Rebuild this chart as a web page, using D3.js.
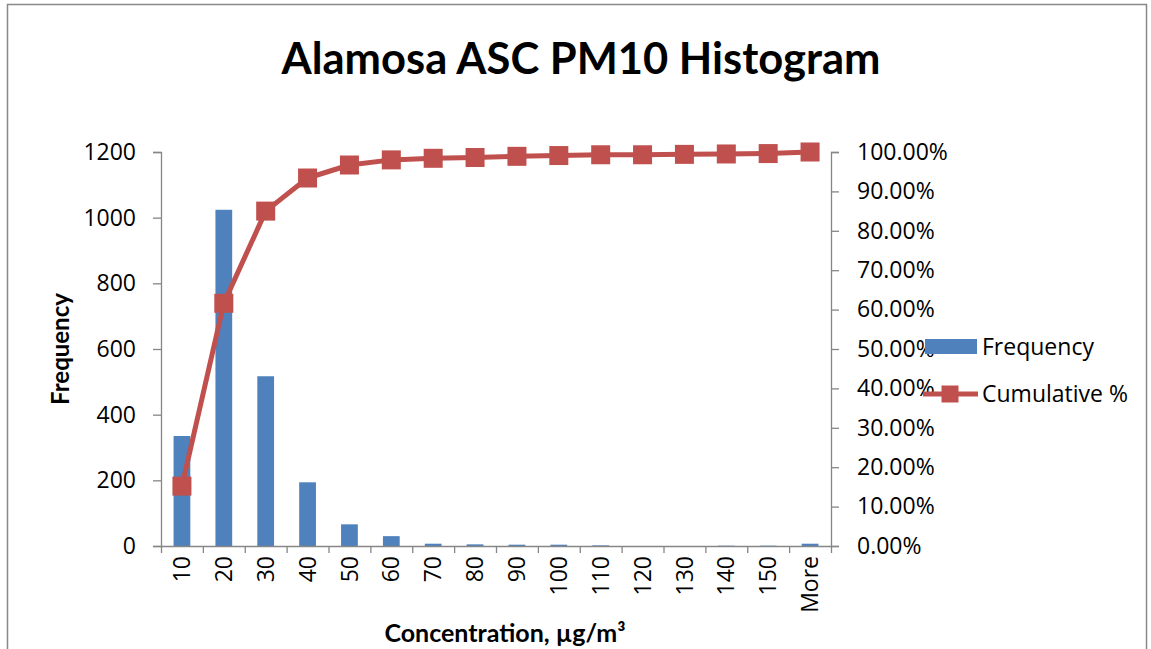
<!DOCTYPE html>
<meta charset="utf-8">
<style>
  body { margin: 0; background: #fff; }
  text { font-family: "Open Sans", sans-serif; fill: #000; }
  .axis path, .axis line { stroke: #868686; stroke-width: 1.3; }
  .axis text { font-size: 23px; }
  .title { font-family: Lato, sans-serif; font-weight: bold; font-size: 43.5px; }
  .axis-title { font-family: Lato, sans-serif; font-weight: bold; font-size: 24px; }
  .legend text { font-size: 23px; }
</style>
<body>
<div id="chart"></div>
<script src="https://d3js.org/d3.v7.min.js"></script>
<script>
// bins and values
var bins = ["10", "20", "30", "40", "50", "60", "70", "80", "90", "100", "110", "120", "130", "140", "150", "More"];
var frequency = [335, 1024, 517, 194, 66, 30, 7, 5, 4, 4, 2, 0, 0, 1, 1, 7];
var cumulative = [15.2, 61.6, 85.0, 93.4, 96.7, 98.0, 98.4, 98.6, 98.9, 99.1, 99.3, 99.3, 99.4, 99.5, 99.6, 100];
var freqTicks = [0, 200, 400, 600, 800, 1000, 1200];
var pctTicks = [0, 10, 20, 30, 40, 50, 60, 70, 80, 90, 100];

var width = 1151,
    height = 649;

// plot area edges
var plotLeft = 161, plotRight = 831, plotTop = 152, plotBottom = 546;

var blue = "#4F81BD",
    red = "#C0504D";

var svg = d3.select("#chart").append("svg")
    .attr("width", width)
    .attr("height", height);

// chart frame
svg.append("rect")
    .attr("x", 7.5).attr("y", 4.5)
    .attr("width", 1139).attr("height", 700)
    .attr("fill", "none")
    .attr("stroke", "#898989")
    .attr("stroke-width", 1.5);

var x = d3.scaleBand()
    .domain(bins)
    .range([plotLeft, plotRight])
    .paddingInner(0.6)
    .paddingOuter(0.3);

// category boundaries for the tick marks
var xEdge = d3.scaleLinear().domain([0, bins.length]).range([plotLeft, plotRight]);

var y = d3.scaleLinear().domain([0, 1200]).range([plotBottom, plotTop]);
var y2 = d3.scaleLinear().domain([0, 100]).range([plotBottom, plotTop]);

// bars
svg.append("g")
  .selectAll("rect")
    .data(bins)
  .enter().append("rect")
    .attr("x", function(d) { return x(d); })
    .attr("y", function(d, i) { return y(frequency[i]); })
    .attr("width", x.bandwidth())
    .attr("height", function(d, i) { return y(0) - y(frequency[i]); })
    .attr("fill", blue);

// left axis
svg.append("g")
    .attr("class", "axis")
    .attr("transform", "translate(" + plotLeft + ",0)")
    .call(d3.axisLeft(y).tickValues(freqTicks).tickSize(8).tickSizeOuter(8).tickPadding(17)
      .tickFormat(d3.format("d")));

// right axis
svg.append("g")
    .attr("class", "axis")
    .attr("transform", "translate(" + plotRight + ",0)")
    .call(d3.axisRight(y2).tickValues(pctTicks).tickSize(8).tickSizeOuter(8).tickPadding(18)
      .tickFormat(function(d) { return d.toFixed(2) + "%"; }));

// bottom axis: tick marks at bin edges
svg.append("g")
    .attr("class", "axis")
    .attr("transform", "translate(0," + plotBottom + ")")
    .call(d3.axisBottom(xEdge).tickValues(d3.range(bins.length + 1)).tickSize(7).tickSizeOuter(0).tickFormat(""));

// bottom labels, rotated
svg.append("g")
    .attr("class", "axis")
  .selectAll("text")
    .data(bins)
  .enter().append("text")
    .attr("transform", function(d) {
      return "translate(" + (x(d) + x.bandwidth() / 2) + "," + (plotBottom + 10) + ") rotate(-90)";
    })
    .attr("dy", "0.35em")
    .attr("text-anchor", "end")
    .text(function(d) { return d; });

// cumulative line
var line = d3.line()
    .x(function(d, i) { return x(bins[i]) + x.bandwidth() / 2; })
    .y(function(d) { return y2(d); });

svg.append("path")
    .datum(cumulative)
    .attr("d", line)
    .attr("fill", "none")
    .attr("stroke", red)
    .attr("stroke-width", 5)
    .attr("stroke-linejoin", "round");

var m = 19;
svg.append("g")
  .selectAll("rect")
    .data(cumulative)
  .enter().append("rect")
    .attr("x", function(d, i) { return x(bins[i]) + x.bandwidth() / 2 - m / 2; })
    .attr("y", function(d) { return y2(d) - m / 2; })
    .attr("width", m)
    .attr("height", m)
    .attr("fill", red);

// titles
svg.append("text")
    .attr("class", "title")
    .attr("x", 581)
    .attr("y", 74)
    .attr("text-anchor", "middle")
    .text("Alamosa ASC PM10 Histogram");

svg.append("text")
    .attr("class", "axis-title")
    .attr("transform", "translate(69,349) rotate(-90)")
    .attr("text-anchor", "middle")
    .text("Frequency");

svg.append("text")
    .attr("class", "axis-title")
    .attr("x", 505)
    .attr("y", 642)
    .attr("text-anchor", "middle")
    .style("font-size", "25px")
    .text("Concentration, \u00b5g/m\u00b3");

// legend
var legend = svg.append("g").attr("class", "legend");

legend.append("rect")
    .attr("x", 925).attr("y", 339)
    .attr("width", 52).attr("height", 15)
    .attr("fill", blue);

legend.append("text")
    .attr("x", 982).attr("y", 347)
    .attr("dy", "0.35em")
    .text("Frequency");

legend.append("line")
    .attr("x1", 923).attr("x2", 978)
    .attr("y1", 394).attr("y2", 394)
    .attr("stroke", red)
    .attr("stroke-width", 5);

legend.append("rect")
    .attr("x", 950 - 8.5).attr("y", 394 - 8.5)
    .attr("width", 17).attr("height", 17)
    .attr("fill", red);

legend.append("text")
    .attr("x", 982).attr("y", 394)
    .attr("dy", "0.35em")
    .text("Cumulative %");
</script>
</body>
